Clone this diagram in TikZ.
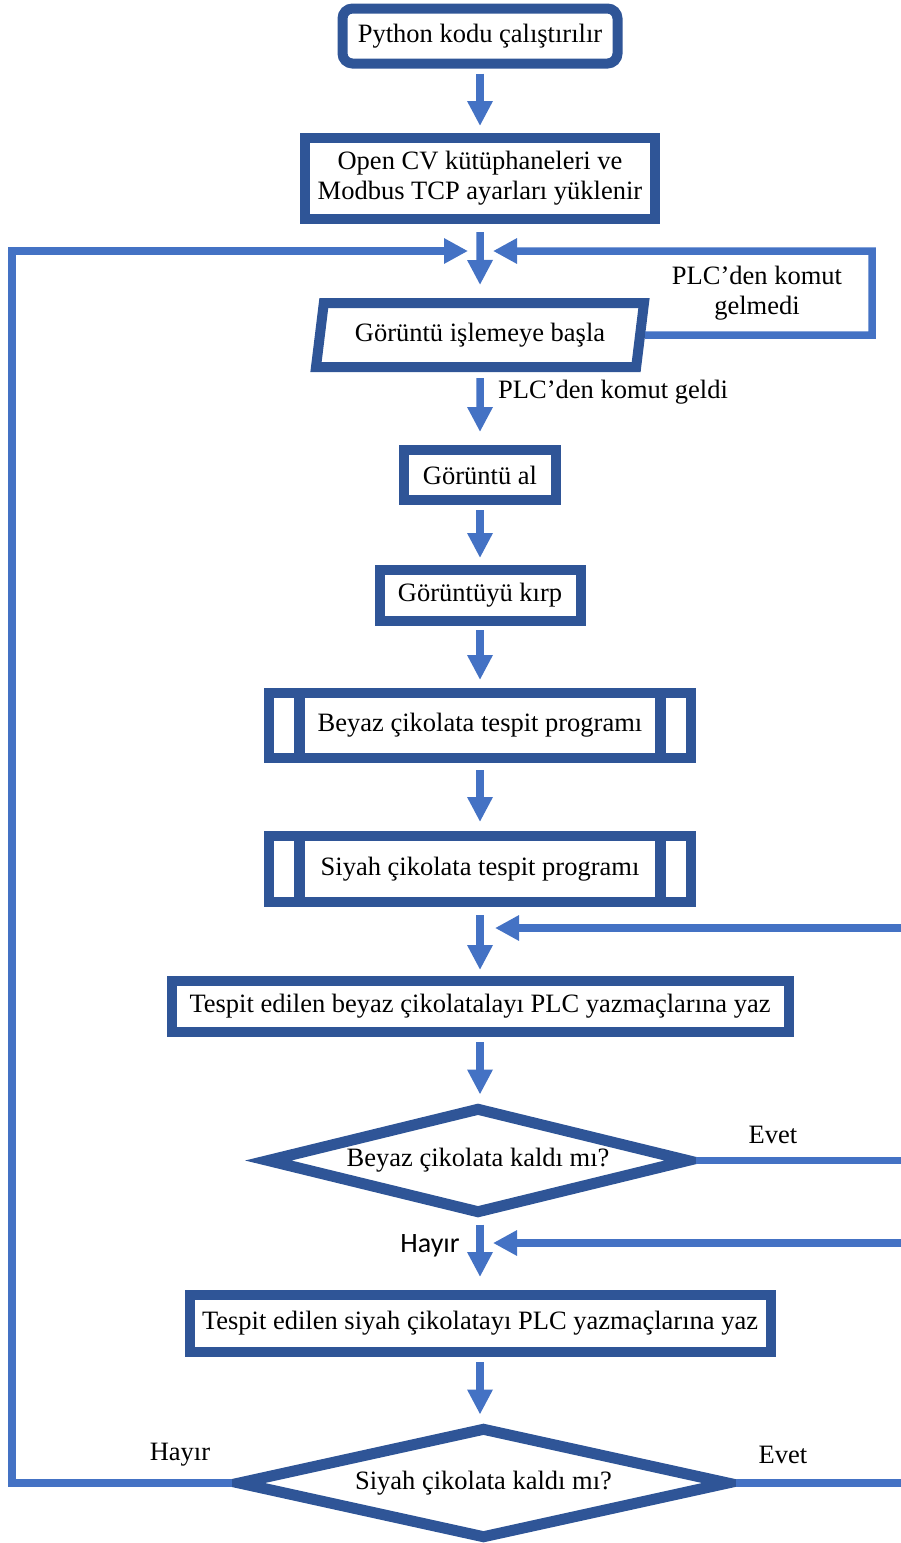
\documentclass[tikz,border=0pt]{standalone}
\usepackage[x11names]{xcolor}
\usepackage{fontspec}
\setmainfont{Liberation Serif}
\newfontfamily\hayirfont{Carlito}
\usetikzlibrary{arrows.meta,shapes.geometric,positioning}

\definecolor{boxblue}{HTML}{2F5597}
\definecolor{arrowblue}{HTML}{4472C4}

\tikzset{
  box/.style={draw=boxblue, line width=10pt, fill=white, inner sep=0pt, align=center},
  io/.style={box, trapezium, trapezium left angle=72, trapezium right angle=108,
    trapezium stretches body},
  decision/.style={box, diamond, line width=11pt, aspect=3.8},
  flow/.style={draw=arrowblue, line width=7.5pt, -{Triangle[length=25pt,width=24pt]},
    shorten <=5pt, shorten >=7pt},
  loopline/.style={draw=arrowblue, line width=7.5pt},
  loopin/.style={loopline, -{Triangle[length=24pt,width=24pt]}},
  bar/.style={boxblue, line width=11pt},
}

\begin{document}
\begin{tikzpicture}[x=1pt, y=-1pt, font=\fontsize{26.5}{30}\selectfont]
    \useasboundingbox (0,0) rectangle (901,1543);

    % Steps of the flow
    \node[box, rounded corners=10pt, minimum width=275pt, minimum height=55pt] (python) at (480,36) {Python kodu çalıştırılır};
    \node[box, minimum width=350pt, minimum height=81pt] (libs) at (480,178.5) {Open CV kütüphaneleri ve\\Modbus TCP ayarları yüklenir\vphantom{g}};
    \node[io, minimum width=328pt, minimum height=64pt] (start) at (480,335) {Görüntü işlemeye başla};
    \node[box, minimum width=152pt, minimum height=50pt] (grab) at (480,475) {Görüntü al};
    \node[box, minimum width=201pt, minimum height=51pt] (crop) at (480,595.5) {Görüntüyü kırp};
    \node[box, minimum width=422pt, minimum height=65pt] (white) at (480,725.5) {Beyaz çikolata tespit programı};
    \node[box, minimum width=422pt, minimum height=66pt] (black) at (480,869) {Siyah çikolata tespit programı};
    \node[box, minimum width=617pt, minimum height=51pt] (wwrite) at (480,1006.5) {Tespit edilen beyaz çikolatalayı PLC yazmaçlarına yaz};
    \node[decision, minimum width=424pt, minimum height=107pt] (wleft) at (478,1160.5) {Beyaz çikolata kaldı mı?};
    \node[box, minimum width=581pt, minimum height=57pt] (bwrite) at (480,1323.5) {Tespit edilen siyah çikolatayı PLC yazmaçlarına yaz};
    \node[decision, minimum width=493pt, minimum height=112pt] (bleft) at (483.5,1483) {Siyah çikolata kaldı mı?};

    % Side bars of the sub-programs
    \foreach \n in {white,black} {
      \draw[bar] ([xshift=35.5pt]\n.north west) -- ([xshift=35.5pt]\n.south west);
      \draw[bar] ([xshift=-35.5pt]\n.north east) -- ([xshift=-35.5pt]\n.south east);
    }

    % Labels
    \node (gelmedi) at (757,293) [align=center] {PLC’den komut\\gelmedi};
    \node[anchor=west, inner sep=0pt] (geldi) at (498,392) {PLC’den komut geldi};
    \node (evetw) at (773,1135) {Evet};
    \node (hayirw) at (430,1246) {\hayirfont\fontsize{28}{30}\selectfont Hayır};
    \node (hayirb) at (180,1455) {Hayır};
    \node (evetb) at (783,1455) {Evet};

    % Main arrows
    \draw[flow] (python.south) -- (libs.north);
    \draw[flow, shorten <=8pt, shorten >=13pt] (libs.south) -- (start.north);
    \draw[flow, shorten <=6pt, shorten >=13pt] (start.south) -- (grab.north);
    \draw[flow] (grab.south) -- (crop.north);
    \draw[flow, shorten <=4pt, shorten >=8pt] (crop.south) -- (white.north);
    \draw[flow, shorten <=7pt, shorten >=9pt] (white.south) -- (black.north);
    \draw[flow, shorten <=8pt, shorten >=6pt] (black.south) -- (wwrite.north);
    \draw[flow] (wwrite.south) -- (wleft.north -| wwrite.south);
    \draw[flow, shorten <=5pt, shorten >=13pt] (wleft.south -| bwrite.north) -- (bwrite.north);
    \draw[flow] (bwrite.south) -- (bleft.north -| bwrite.south);

    % Loops back
    \coordinate (joinL) at (468,251);
    \coordinate (joinR) at (493,251);
    \coordinate (cornerL) at (12,1483);
    \coordinate (cornerR) at (872,335);
    \draw[loopin] (bleft.west) -- (cornerL) |- (joinL);
    \draw[loopin] (start.east) -- (cornerR) |- (joinR);

    % Lines going out on the right
    \coordinate (edgeA) at (901,928);
    \coordinate (joinA) at (495,928);
    \coordinate (edgeB) at (901,1160.5);
    \coordinate (edgeC) at (901,1243);
    \coordinate (joinC) at (493,1243);
    \coordinate (edgeD) at (901,1483);
    \draw[loopin] (edgeA) -- (joinA);
    \draw[loopline] (wleft.east) -- (edgeB);
    \draw[loopin] (edgeC) -- (joinC);
    \draw[loopline] (bleft.east) -- (edgeD);
\end{tikzpicture}
\end{document}
